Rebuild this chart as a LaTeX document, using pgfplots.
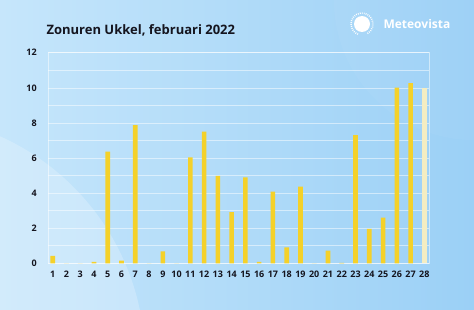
\documentclass[border=0pt]{standalone}
\usepackage{pgfplots}
\pgfplotsset{compat=1.18}
\usepackage{fontspec}
\setmainfont{Open Sans}
\definecolor{bgL}{HTML}{C6E6FB}
\definecolor{bgR}{HTML}{9BD0F6}
\definecolor{barY}{HTML}{F4D12A}
\definecolor{barP}{HTML}{F4EDC2}
\definecolor{txt}{HTML}{15151F}
\begin{document}
\begin{tikzpicture}[x=1pt,y=1pt]
\useasboundingbox (0,0) rectangle (474,309);
\begin{scope}
\clip (0,0) rectangle (474,309);
\shade[left color=bgL, right color=bgR] (0,0) rectangle (474,309);
\fill[white, opacity=0.22] (-100,-51) circle (245);
\fill[white, opacity=0.04] (474,309) circle (140);
\end{scope}
% title
\node[anchor=west, font=\bfseries\fontsize{13}{15}\selectfont, text=txt] at (43,279) {Zonuren Ukkel, februari 2022};
% logo
\fill[white] (362,285) circle (8);
\draw[white, line width=1.6pt, dash pattern=on 0.8pt off 1.2pt] (362,285) ++(-60:11) arc (-60:250:11);
\node[anchor=west, font=\bfseries\fontsize{12}{14}\selectfont, text=white] at (380,285) {Meteovista};
\begin{axis}[
  at={(48.3pt,45.7pt)}, anchor=south west,
  scale only axis, width=381pt, height=210.6pt,
  xmin=0.68, xmax=28.36, ymin=0, ymax=12,
  xtick={1,...,28}, ytick={0,2,...,12},
  minor ytick={1,3,...,11},
  ymajorgrids, yminorgrids,
  major grid style={white, opacity=0.5, line width=0.6pt},
  minor grid style={white, opacity=0.5, line width=0.6pt},
  axis line style={white, opacity=0.5, line width=0.6pt},
  major tick length=0pt, minor tick length=0pt,
  tick style={draw=none},
  ticklabel style={font=\bfseries\fontsize{9}{10}\selectfont, text=txt},
  /pgf/number format/assume math mode=true,
  xticklabel style={anchor=north, text height=7pt, text depth=0pt, yshift=-4pt},
  yticklabel style={xshift=-8pt},
]
\addplot[ybar, bar width=4.6pt, fill=barY, draw=none] coordinates {
(1,0.42) (2,0) (3,0) (4,0.08) (5,6.36) (6,0.15) (7,7.88) (8,0) (9,0.68) (10,0)
(11,6.04) (12,7.5) (13,4.98) (14,2.92) (15,4.9) (16,0.08) (17,4.08) (18,0.91)
(19,4.37) (20,0) (21,0.72) (22,0.03) (23,7.31) (24,1.96) (25,2.6) (26,10.01) (27,10.26)
};
\addplot[ybar, bar width=4.6pt, fill=barP, draw=none] coordinates {(28,10.0)};
\end{axis}
\end{tikzpicture}
\end{document}
